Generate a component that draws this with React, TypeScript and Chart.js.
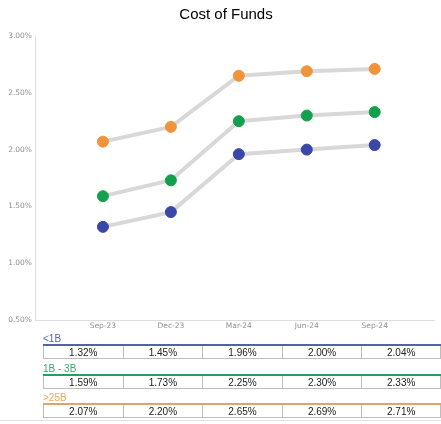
import React, { useEffect, useRef } from "react";
import { Chart, registerables } from "chart.js";

Chart.register(...registerables);

const categories = ["Sep-23", "Dec-23", "Mar-24", "Jun-24", "Sep-24"];
const seriesNames = ["<1B", "1B - 3B", ">25B"];
const small = [1.32, 1.45, 1.96, 2.0, 2.04];
const mid = [1.59, 1.73, 2.25, 2.3, 2.33];
const large = [2.07, 2.2, 2.65, 2.69, 2.71];
const yTicks = [0.5, 1.0, 1.5, 2.0, 2.5, 3.0];
const titleText = "Cost of Funds";

const pointColors = ["#3a46a8", "#12a04c", "#f0933a"];
const labelColors = ["#5a62b4", "#2fb06a", "#f3a560"];
const rowLineColors = ["#5660b0", "#1ea35c", "#dba56e"];

const allSeries = [small, mid, large];

export default function App() {
  const ref = useRef<HTMLCanvasElement | null>(null);

  useEffect(() => {
    document.body.style.margin = "0";
    if (!ref.current) return;
    const chart = new Chart(ref.current, {
      type: "line",
      data: {
        datasets: allSeries.map((vals, si) => ({
          label: seriesNames[si],
          data: vals.map((v, i) => ({ x: i, y: v })),
          borderColor: "#d8d8d8",
          borderWidth: 4,
          pointRadius: 5.5,
          pointHoverRadius: 5.5,
          pointBackgroundColor: pointColors[si],
          pointBorderColor: pointColors[si],
          pointBorderWidth: 1,
          tension: 0,
        })),
      },
      options: {
        animation: false,
        responsive: false,
        maintainAspectRatio: false,
        layout: { padding: { left: 0, right: 0, top: 36, bottom: 0 } },
        plugins: {
          legend: { display: false },
          tooltip: { enabled: false },
          title: { display: false },
        },
        scales: {
          x: {
            type: "linear",
            min: -1,
            max: 4.88,
            grid: { display: false, drawTicks: false },
            border: { display: true, color: "#dddddd", width: 1 },
            afterBuildTicks: (scale: any) => {
              scale.ticks = categories.map((_, i) => ({ value: i }));
            },
            afterFit: (scale: any) => {
              scale.height = 12;
            },
            ticks: {
              color: "#8f8f8f",
              font: { family: "DejaVu Sans, Verdana", size: 7.5 },
              padding: 2,
              maxRotation: 0,
              autoSkip: false,
              callback: (v: any) => categories[v as number] ?? "",
            },
          },
          y: {
            min: 0.5,
            max: 3.0,
            grid: { display: false, drawTicks: false },
            border: { display: true, color: "#dddddd", width: 1 },
            afterBuildTicks: (scale: any) => {
              scale.ticks = yTicks.map((v) => ({ value: v }));
            },
            afterFit: (scale: any) => {
              scale.width = 35;
            },
            ticks: {
              color: "#8f8f8f",
              font: { family: "DejaVu Sans, Verdana", size: 7.5 },
              padding: 3,
              callback: (v: any) => Number(v).toFixed(2) + "%",
            },
          },
        },
      },
    });
    return () => chart.destroy();
  }, []);

  return (
    <div style={{ width: 441, height: 424, position: "relative", overflow: "hidden", background: "#fff" }}>
      <canvas ref={ref} width={441} height={332} style={{ display: "block", width: 441, height: 332 }} />
      <div
        style={{
          position: "absolute",
          left: 126,
          width: 200,
          top: 4,
          height: 20,
          lineHeight: "20px",
          textAlign: "center",
          fontFamily: "Liberation Sans, Arial, sans-serif",
          fontSize: 15,
          color: "#000",
        }}
      >
        {titleText}
      </div>
      <div style={{ position: "absolute", left: 43, top: 331, width: 400 }}>
        {allSeries.map((vals, si) => (
          <div key={si} style={{ height: 29.5 }}>
            <div
              style={{
                height: 13,
                lineHeight: "15px",
                fontFamily: "Liberation Sans, Arial, sans-serif",
                fontSize: 10,
                color: labelColors[si],
              }}
            >
              {seriesNames[si]}
            </div>
            <div style={{ display: "flex", borderTop: `2px solid ${rowLineColors[si]}` }}>
              {vals.map((v, i) => (
                <div
                  key={i}
                  style={{
                    width: 79.6,
                    height: 13,
                    boxSizing: "border-box",
                    borderLeft: "1px solid #bdbdbd",
                    borderRight: i === vals.length - 1 ? "1px solid #bdbdbd" : "none",
                    borderBottom: "1px solid #bdbdbd",
                    textAlign: "center",
                    fontFamily: "Liberation Sans, Arial, sans-serif",
                    fontSize: 10,
                    lineHeight: "13px",
                    color: "#222",
                  }}
                >
                  {v.toFixed(2)}%
                </div>
              ))}
            </div>
          </div>
        ))}
      </div>
      <div style={{ position: "absolute", left: 0, top: 420, width: 441, borderTop: "1px solid #e2e2e2" }} />
    </div>
  );
}
